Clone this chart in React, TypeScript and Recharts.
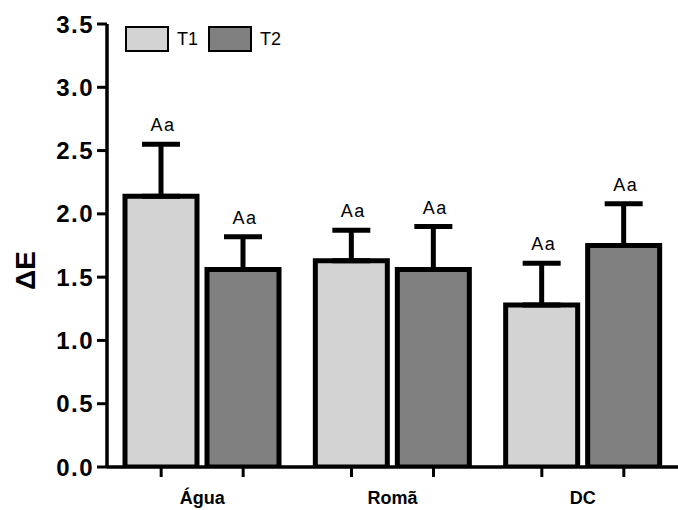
import React from 'react';
import { BarChart, Bar, XAxis, YAxis, ErrorBar, LabelList, Legend } from 'recharts';

const categories = ['Água', 'Romã', 'DC'];
const seriesNames = ['T1', 'T2'];
const t1Mean = [2.14, 1.63, 1.28];
const t1Err = [0.41, 0.24, 0.33];
const t2Mean = [1.56, 1.56, 1.75];
const t2Err = [0.26, 0.34, 0.33];
const t1Letters = ['Aa', 'Aa', 'Aa'];
const t2Letters = ['Aa', 'Aa', 'Aa'];
const yTicks = [0, 0.5, 1, 1.5, 2, 2.5, 3, 3.5];

const FONT = '"Liberation Sans", Arial, Helvetica, sans-serif';
const T1_FILL = '#d3d3d3';
const T2_FILL = '#808080';
const BAR_SIZE = 72;
const BAR_GAP = 10;

const data = categories.map((c, i) => ({
  name: c,
  t1: t1Mean[i],
  t1e: [0, t1Err[i]],
  t1l: t1Letters[i],
  t2: t2Mean[i],
  t2e: [0, t2Err[i]],
  t2l: t2Letters[i],
}));

const makeLetterLabel = (errs: number[], means: number[]) => (props: any) => {
  const vb = props.viewBox || props;
  const x = Number(vb.x ?? props.x);
  const y = Number(vb.y ?? props.y);
  const w = Number(vb.width ?? props.width);
  const h = Number(vb.height ?? props.height);
  const idx = props.index;
  const pxPerUnit = h / means[idx];
  const errTop = y - errs[idx] * pxPerUnit;
  return (
    <text
      x={x + w / 2 + 2}
      y={errTop - 13}
      textAnchor="middle"
      fontFamily={FONT}
      fontSize={18}
      letterSpacing={1.5}
      fill="#000"
    >
      {props.value}
    </text>
  );
};

const XTick = (props: any) => {
  const { x, y, payload } = props;
  const off = (BAR_SIZE + BAR_GAP) / 2;
  return (
    <g>
      <line x1={x - off} x2={x - off} y1={y} y2={y + 10} stroke="#000" strokeWidth={3} />
      <line x1={x + off} x2={x + off} y1={y} y2={y + 10} stroke="#000" strokeWidth={3} />
      <text
        x={x}
        y={y + 37}
        textAnchor="middle"
        fontFamily={FONT}
        fontSize={18}
        fontWeight="bold"
        fill="#000"
      >
        {payload.value}
      </text>
    </g>
  );
};

const YLabel = (props: any) => {
  const vb = props.viewBox || {};
  const cx = 35;
  const cy = vb.y + vb.height / 2 + 25;
  return (
    <text
      x={cx}
      y={cy}
      transform={`rotate(-90, ${cx}, ${cy})`}
      textAnchor="middle"
      fontFamily={FONT}
      fontSize={28}
      fontWeight="bold"
      fill="#000"
    >
      ΔE
    </text>
  );
};

const LegendContent = (props: any) => {
  const payload = props.payload || [];
  return (
    <div style={{ display: 'flex', alignItems: 'center', fontFamily: FONT }}>
      {payload.map((p: any, i: number) => (
        <div key={i} style={{ display: 'flex', alignItems: 'center' }}>
          <div
            style={{
              width: 44,
              height: 26,
              boxSizing: 'border-box',
              border: '2px solid #000',
              background: p.color,
              marginRight: 8,
            }}
          />
          <span style={{ fontSize: 18, color: '#000', marginRight: 10, lineHeight: '26px' }}>{p.value}</span>
        </div>
      ))}
    </div>
  );
};

export default function App() {
  return (
    <div style={{ position: 'absolute', left: 0, top: 0, width: 678, height: 510, background: '#fff' }}>
      <BarChart
        width={678}
        height={510}
        data={data}
        margin={{ top: 24, right: 0, bottom: 13, left: 47 }}
        barSize={BAR_SIZE}
        barGap={BAR_GAP}
      >
        <XAxis
          dataKey="name"
          axisLine={{ stroke: '#000', strokeWidth: 3.5 }}
          tickLine={false}
          tickSize={0}
          tickMargin={0}
          height={30}
          tick={<XTick />}
          interval={0}
        />
        <YAxis
          domain={[0, 3.5]}
          ticks={yTicks}
          width={60}
          axisLine={{ stroke: '#000', strokeWidth: 3.5 }}
          tickLine={{ stroke: '#000', strokeWidth: 3 }}
          tickSize={10}
          tickMargin={3}
          tickFormatter={(v: number) => v.toFixed(1)}
          tick={{ fontFamily: FONT, fontSize: 24, fontWeight: 'bold', fill: '#000', letterSpacing: 1.5 }}
          label={<YLabel />}
          allowDataOverflow
        />
        <Legend
          layout="horizontal"
          verticalAlign="middle"
          align="center"
          content={<LegendContent />}
          wrapperStyle={{ top: 26, left: 125, width: 'auto', height: 26 }}
        />
        <Bar
          dataKey="t1"
          name={seriesNames[0]}
          fill={T1_FILL}
          stroke="#000"
          strokeWidth={5}
          isAnimationActive={false}
        >
          <ErrorBar dataKey="t1e" width={19} stroke="#000" strokeWidth={5} direction="y" />
          <LabelList dataKey="t1l" content={makeLetterLabel(t1Err, t1Mean)} />
        </Bar>
        <Bar
          dataKey="t2"
          name={seriesNames[1]}
          fill={T2_FILL}
          stroke="#000"
          strokeWidth={5}
          isAnimationActive={false}
        >
          <ErrorBar dataKey="t2e" width={19} stroke="#000" strokeWidth={5} direction="y" />
          <LabelList dataKey="t2l" content={makeLetterLabel(t2Err, t2Mean)} />
        </Bar>
      </BarChart>
    </div>
  );
}
